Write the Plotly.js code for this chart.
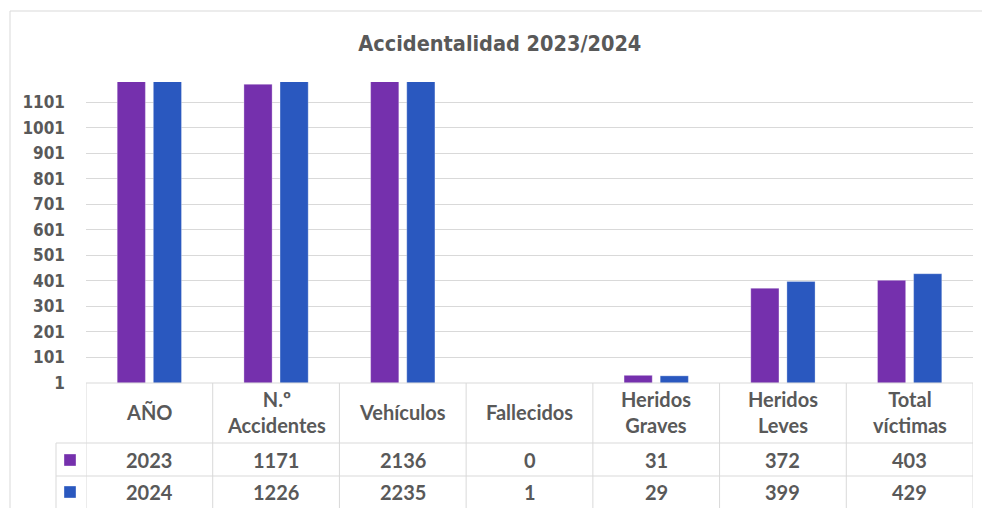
<!DOCTYPE html>
<html>
<head>
<meta charset="utf-8">
<script src="https://cdn.plot.ly/plotly-3.0.1.min.js"></script>
<style>html,body{margin:0;padding:0;background:#fff;}#chart{width:982px;height:508px;}</style>
</head>
<body>
<div id="chart"></div>
<script>
const categories = ["AÑO", "N.º<br>Accidentes", "Vehículos", "Fallecidos", "Heridos<br>Graves", "Heridos<br>Leves", "Total<br>víctimas"];
const seriesNames = ["2023", "2024"];
const values2023 = [2023, 1171, 2136, 0, 31, 372, 403];
const values2024 = [2024, 1226, 2235, 1, 29, 399, 429];
const colors = ["#7530AD", "#2A58BF"];
const tickVals = [1, 101, 201, 301, 401, 501, 601, 701, 801, 901, 1001, 1101];

const W = 982, H = 508, L = 86, R = 9, T = 82, B = 125;
const PW = W - L - R, PH = H - T - B;
const px = p => (p - L) / PW;
const py = p => (T + PH - p) / PH;
const grid = "#D9D9D9";
const txt = "#595959";
const tfont = {family: "Lato, 'Open Sans', sans-serif", size: 20, color: txt, weight: 700};

const xs = categories.map((c, i) => i);
const traces = [values2023, values2024].map((v, k) => ({
  type: "bar", x: xs, y: v, name: seriesNames[k],
  marker: {color: colors[k], line: {color: "rgba(255,255,255,0.5)", width: 0.6}},
  hoverinfo: "skip"
}));

const shapes = [];
const annotations = [];
// outer frame
shapes.push({type: "rect", xref: "paper", yref: "paper", x0: px(10), x1: px(990), y0: py(11), y1: py(530), line: {color: grid, width: 1}, layer: "below"});
// table horizontal lines
shapes.push({type: "line", xref: "paper", yref: "paper", x0: px(86), x1: 1, y0: py(383), y1: py(383), line: {color: grid, width: 1}});
[443, 476].forEach(y => shapes.push({type: "line", xref: "paper", yref: "paper", x0: px(56), x1: 1, y0: py(y), y1: py(y), line: {color: grid, width: 1}}));
// vertical column borders
for (let i = 0; i <= categories.length; i++) {
  shapes.push({type: "line", xref: "x", yref: "paper", x0: i - 0.5, x1: i - 0.5, y0: py(383), y1: py(515), line: {color: grid, width: 1}});
}
shapes.push({type: "line", xref: "paper", yref: "paper", x0: px(56), x1: px(56), y0: py(443), y1: py(515), line: {color: grid, width: 1}});
// legend keys and values
const rowsData = [values2023, values2024];
const rowCenters = [460, 492];
rowsData.forEach((vals, k) => {
  const cy = rowCenters[k];
  shapes.push({type: "rect", xref: "paper", yref: "paper", x0: px(64), x1: px(76), y0: py(cy + 6), y1: py(cy - 6), fillcolor: colors[k], line: {color: "rgba(255,255,255,0.6)", width: 0.6}});
  vals.forEach((v, i) => annotations.push({xref: "x", yref: "paper", x: i, y: py(cy), text: String(v), showarrow: false, font: tfont, xanchor: "center", yanchor: "middle"}));
});
categories.forEach((c, i) => annotations.push({xref: "x", yref: "paper", x: i, y: py(412), text: c, showarrow: false, font: tfont, xanchor: "center", yanchor: "middle"}));

const layout = {
  width: W, height: H,
  margin: {l: L, r: R, t: T, b: B, pad: 0},
  paper_bgcolor: "#fff", plot_bgcolor: "#fff",
  title: {text: "Accidentalidad 2023/2024", x: 0.509, xanchor: "center", y: 1 - 43 / H, yanchor: "middle", yref: "container",
          font: {family: "'Liberation Sans Narrow', 'DejaVu Sans Condensed', Roboto, sans-serif", size: 21.5, color: txt, weight: 700}},
  showlegend: false,
  barmode: "group", bargap: 0.43, bargroupgap: 0.22,
  xaxis: {range: [-0.5, 6.5], showticklabels: false, showgrid: false, zeroline: false, showline: false, ticks: "", fixedrange: true},
  yaxis: {range: [1, 1180], tickvals: tickVals, ticktext: tickVals.map(String), showgrid: true, gridcolor: grid, gridwidth: 1,
          zeroline: false, showline: false, ticks: "", ticklabelstandoff: 20,
          tickfont: {family: "'Liberation Sans Narrow', 'DejaVu Sans Condensed', Roboto, sans-serif", size: 17, color: txt, weight: 700}},
  shapes: shapes, annotations: annotations
};
Plotly.newPlot("chart", traces, layout, {displayModeBar: false, staticPlot: true});
</script>
</body>
</html>
